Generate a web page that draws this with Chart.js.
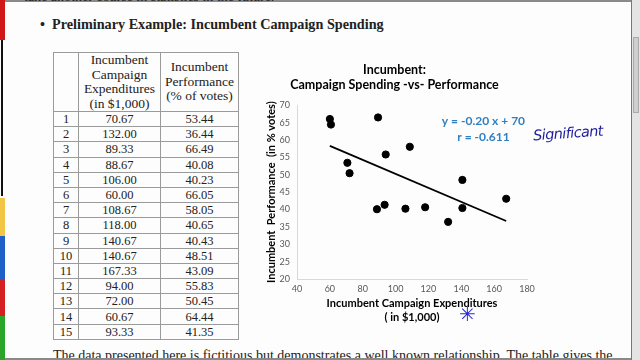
<!DOCTYPE html>
<html>
<head>
<meta charset="utf-8">
<script src="https://cdn.jsdelivr.net/npm/chart.js@4"></script>
<style>
  html, body { margin: 0; padding: 0; }
  body { width: 640px; height: 360px; overflow: hidden; background: #fdfdfd; position: relative; font-family: "Liberation Serif", serif; color: #222; }
  .abs { position: absolute; }
  #frameTop { left: 0; top: 0; width: 640px; height: 2px; background: #8a8a8a; }
  #frameBottom { left: 0; top: 358px; width: 640px; height: 2px; background: #8a8a8a; }
  #scroll { left: 631px; top: 0; width: 9px; height: 360px; background: #e4e4e4; border-left: 1px solid #777; }
  #thumb { left: 633px; top: 37px; width: 6px; height: 76px; background: #cfcfcf; border: 1px solid #aaa; box-sizing: border-box; }
  .strip { left: 0; width: 5px; }
  #vline { left: 1px; top: 40px; width: 2px; height: 156px; background: #111; }
  #topText { left: 24px; top: -11px; font-size: 14px; white-space: nowrap; }
  #bullet { left: 40px; top: 16px; font-size: 14.2px; font-weight: bold; white-space: nowrap; }
  #bottomText { left: 53px; top: 348px; font-size: 14px; white-space: nowrap; }
  table { position: absolute; left: 53px; top: 52px; border-collapse: collapse; font-size: 12.5px; }
  td, th { border: 1px solid #9a9a9a; padding: 0; text-align: center; font-weight: normal; }
  th { height: 58px; font-size: 13.5px; line-height: 14.5px; }
  td { height: 14.2px; line-height: 14px; }
  #chartBox { left: 262px; top: 56px; width: 300px; height: 272px; }
  #sig { left: 533px; top: 125px; font-family: "DejaVu Sans", sans-serif; font-style: italic; font-size: 14.5px; color: #1d1d9c; transform: rotate(-4deg); letter-spacing: -0.6px; }
  #star { left: 459px; top: 302px; font-family: "DejaVu Sans", sans-serif; font-size: 20px; color: #2a2ad0; }
</style>
</head>
<body>
<div class="abs" id="frameTop"></div>
<div class="abs" id="topText">take another course in statistics in the future.</div>
<div class="abs" id="bullet">&bull;&nbsp; Preliminary Example: Incumbent Campaign Spending</div>
<table id="dataTable"></table>
<div class="abs" id="chartBox"><canvas id="scatter" width="300" height="272"></canvas></div>
<div class="abs" id="sig">Significant</div>
<div class="abs" id="star">✳</div>
<div class="abs" id="bottomText">The data presented here is fictitious but demonstrates a well known relationship. The table gives the</div>
<div class="abs" id="frameBottom"></div>
<div class="abs" id="scroll"></div>
<div class="abs" id="thumb"></div>
<div class="abs strip" style="top:0;height:40px;background:#d01818"></div>
<div class="abs" id="vline"></div>
<div class="abs strip" style="top:198px;height:38px;background:#f3c545"></div>
<div class="abs strip" style="top:236px;height:44px;background:#1f5fc8"></div>
<div class="abs strip" style="top:280px;height:36px;background:#d42020"></div>
<div class="abs strip" style="top:316px;height:44px;background:#2aa52a"></div>
<script>
// table / scatter data
var expenditures = [70.67, 132.00, 89.33, 88.67, 106.00, 60.00, 108.67, 118.00, 140.67, 140.67, 167.33, 94.00, 72.00, 60.67, 93.33];
var performance = [53.44, 36.44, 66.49, 40.08, 40.23, 66.05, 58.05, 40.65, 40.43, 48.51, 43.09, 55.83, 50.45, 64.44, 41.35];
var headers = ["", "Incumbent<br>Campaign<br>Expenditures<br>(in $1,000)", "Incumbent<br>Performance<br>(% of votes)"];

// trend line ends
var fitX = [60, 167.33];
var fitY = [58.3, 36.7];

// axis ticks
var xTicks = [40, 180, 20];   // min, max, step
var yTicks = [20, 70, 5];

// equation text, anchored at data coords
var eqLines = ["y = -0.20 x + 70", "r = -0.611"];
var eqAt = [[153.5, 65.4], [153.5, 60.9]];

// build table
var tbl = document.getElementById("dataTable");
var html = "<tr><th style='width:24px'>" + headers[0] + "</th><th style='width:81px'>" + headers[1] + "</th><th style='width:77px'>" + headers[2] + "</th></tr>";
for (var i = 0; i < expenditures.length; i++) {
  html += "<tr><td>" + (i + 1) + "</td><td>" + expenditures[i].toFixed(2) + "</td><td>" + performance[i].toFixed(2) + "</td></tr>";
}
tbl.innerHTML = html;

var pts = expenditures.map(function (v, i) { return {x: v, y: performance[i]}; });
var line = fitX.map(function (v, i) { return {x: v, y: fitY[i]}; });

var eqPlugin = {
  id: "eq",
  afterDatasetsDraw: function (chart) {
    var c = chart.ctx;
    c.save();
    c.font = "bold 12px Lato";
    c.fillStyle = "#2f7fc1";
    c.textAlign = "center";
    c.textBaseline = "middle";
    eqLines.forEach(function (t, i) {
      c.fillText(t, chart.scales.x.getPixelForValue(eqAt[i][0]), chart.scales.y.getPixelForValue(eqAt[i][1]));
    });
    c.restore();
  }
};

var ctx = document.getElementById("scatter").getContext("2d");
var myChart = new Chart(ctx, {
  type: 'scatter',
  data: {
    datasets: [{
      data: pts,
      backgroundColor: "#000",
      borderColor: "#000",
      pointRadius: 3.6,
      pointHoverRadius: 3.6
    }, {
      data: line,
      showLine: true,
      borderColor: "#000",
      borderWidth: 1.8,
      pointRadius: 0
    }]
  },
  plugins: [eqPlugin],
  options: {
    responsive: false,
    animation: false,
    layout: { padding: { left: 0, right: 35, top: 0, bottom: 0 } },
    plugins: {
      legend: { display: false },
      tooltip: { enabled: false },
      title: {
        display: true,
        text: ["Incumbent:", "Campaign Spending -vs- Performance"],
        color: "#000",
        font: { family: "Lato", size: 12.5, weight: "bold", lineHeight: 1.25 },
        padding: { top: 6, bottom: 12 }
      }
    },
    scales: {
      x: {
        type: 'linear',
        min: xTicks[0], max: xTicks[1],
        ticks: { stepSize: xTicks[2], color: "#595959", font: { family: "Lato", size: 9 }, padding: 5 },
        grid: { display: false, drawTicks: false },
        border: { display: true, color: "#d9d9d9" },
        title: { display: true, text: ["Incumbent Campaign Expenditures", "( in $1,000)"], color: "#000",
                 font: { family: "Lato", size: 11, weight: "bold", lineHeight: 1.25 }, padding: { top: 2, bottom: 4 } },
        afterFit: function (s) { s.height = 49; }
      },
      y: {
        min: yTicks[0], max: yTicks[1],
        ticks: { stepSize: yTicks[2], color: "#595959", font: { family: "Lato", size: 9 }, padding: 7 },
        grid: { display: false, drawTicks: false },
        border: { display: true, color: "#d9d9d9" },
        title: { display: true, text: "Incumbent  Performance  (in % votes)", color: "#000",
                 font: { family: "Lato", size: 11, weight: "bold", lineHeight: 1.2 }, padding: { top: 3, bottom: 2 } },
        afterFit: function (s) { s.width = 35; }
      }
    }
  }
});
</script>
</body>
</html>
